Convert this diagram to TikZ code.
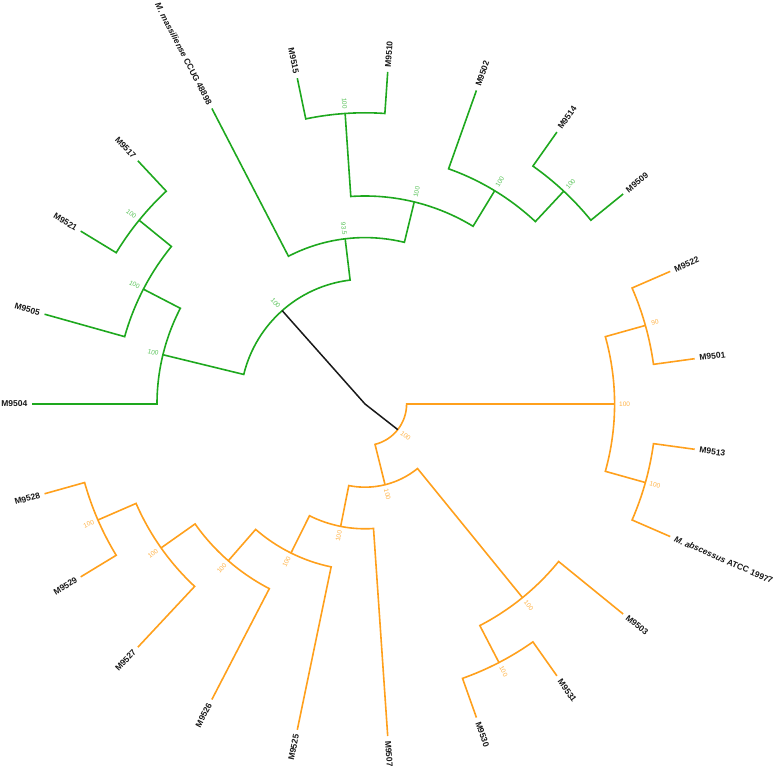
\documentclass[tikz,border=0pt]{standalone}
\usepackage{fontspec}
\setmainfont{Liberation Sans}
\definecolor{gbr}{RGB}{30,168,30}
\definecolor{obr}{RGB}{255,160,28}
\definecolor{glab}{RGB}{90,195,90}
\definecolor{olab}{RGB}{255,178,70}
\tikzset{
  gline/.style={draw=gbr, line width=1.6pt},
  oline/.style={draw=obr, line width=1.6pt},
  rootline/.style={draw=black!90, line width=1.5pt},
  tiplabel/.style={font=\fontsize{8.5}{9}\selectfont\bfseries, inner sep=0pt, text=black!90},
  bslabel/.style={font=\fontsize{6.5}{7}\selectfont, inner sep=0pt},
}
% tip on the right half / left half
\newcommand\tipR[3]{\coordinate (#1) at (#2:332.8);
  \node[tiplabel, anchor=west, rotate=#2] (lab#1) at (#2:337.5) {#3};}
\newcommand\tipL[3]{\coordinate (#1) at (#2:332.8);
  \node[tiplabel, anchor=east, rotate=#2+180] (lab#1) at (#2:337.5) {#3};}
% internal node: name, radius, own angle, child1, angle1, child2, angle2, style
\newcommand\mkclade[8]{%
  \draw[#8] (#4) -- (#5:#2) arc[start angle=#5, end angle=#7, radius=#2 pt] -- (#6);
  \coordinate (#1) at (#3:#2);}
% bootstrap labels: name, angle, radius, text, colour
\newcommand\bsR[5]{\node[bslabel, text=#5, rotate=#2] (bs#1) at (#2:#3) {#4};}
\newcommand\bsL[5]{\node[bslabel, text=#5, rotate=#2+180] (bs#1) at (#2:#3) {#4};}
\begin{document}
\begin{tikzpicture}[x=1pt, y=1pt]
\useasboundingbox (0,0) rectangle (777,770);
\begin{scope}[shift={(365,366)}]
% tips
\tipR{t9522}{23.478}{M9522}
\tipR{t9501}{7.826}{M9501}
\tipR{t9513}{-7.826}{M9513}
\tipR{tabs}{-23.478}{\textit{M. abscessus} ATCC 19977}
\tipR{t9503}{-39.130}{M9503}
\tipR{t9531}{-54.783}{M9531}
\tipR{t9530}{-70.435}{M9530}
\tipR{t9507}{-86.087}{M9507}
\tipL{t9525}{-101.739}{M9525}
\tipL{t9526}{-117.391}{M9526}
\tipL{t9527}{-133.043}{M9527}
\tipL{t9529}{-148.696}{M9529}
\tipL{t9528}{-164.348}{M9528}
\tipL{t9504}{180}{M9504}
\tipL{t9505}{164.348}{M9505}
\tipL{t9521}{148.696}{M9521}
\tipL{t9517}{133.043}{M9517}
\tipL{tmas}{117.391}{\textit{M. massiliense} CCUG 48898}
\tipL{t9515}{101.739}{M9515}
\tipR{t9510}{86.087}{M9510}
\tipR{t9502}{70.435}{M9502}
\tipR{t9514}{54.783}{M9514}
\tipR{t9509}{39.130}{M9509}
% green clade
\mkclade{X}{291.2}{140.870}{t9517}{133.043}{t9521}{148.696}{gline}
\mkclade{Y}{249.6}{152.609}{X}{140.870}{t9505}{164.348}{gline}
\mkclade{Z}{208}{166.304}{Y}{152.609}{t9504}{180}{gline}
\mkclade{T}{291.2}{93.913}{t9515}{101.739}{t9510}{86.087}{gline}
\mkclade{R}{291.2}{46.957}{t9514}{54.783}{t9509}{39.130}{gline}
\mkclade{S}{249.6}{58.696}{t9502}{70.435}{R}{46.957}{gline}
\mkclade{U}{208}{76.304}{T}{93.913}{S}{58.696}{gline}
\mkclade{V}{166.4}{96.848}{tmas}{117.391}{U}{76.304}{gline}
\mkclade{W}{124.8}{131.576}{Z}{166.304}{V}{96.848}{gline}
% orange clade
\mkclade{Q}{291.2}{15.652}{t9522}{23.478}{t9501}{7.826}{oline}
\mkclade{Qb}{291.2}{-15.652}{t9513}{-7.826}{tabs}{-23.478}{oline}
\mkclade{P}{249.6}{0}{Q}{15.652}{Qb}{-15.652}{oline}
\mkclade{H}{291.2}{-62.609}{t9530}{-70.435}{t9531}{-54.783}{oline}
\mkclade{M}{249.6}{-50.870}{H}{-62.609}{t9503}{-39.130}{oline}
\mkclade{I}{291.2}{-156.522}{t9528}{-164.348}{t9529}{-148.696}{oline}
\mkclade{J}{249.6}{-144.783}{I}{-156.522}{t9527}{-133.043}{oline}
\mkclade{K}{208}{-131.087}{J}{-144.783}{t9526}{-117.391}{oline}
\mkclade{L}{166.4}{-116.413}{K}{-131.087}{t9525}{-101.739}{oline}
\mkclade{N}{124.8}{-101.25}{L}{-116.413}{t9507}{-86.087}{oline}
\mkclade{Ob}{83.2}{-76.060}{N}{-101.25}{M}{-50.870}{oline}
\mkclade{Oa}{41.6}{-38.030}{P}{0}{Ob}{-76.060}{oline}
% root
\coordinate (root) at (0,0);
\draw[rootline] (W) -- (root) -- (Oa);
% bootstrap values
\bsL{X}{140.870}{301.2}{100}{glab}
\bsL{Y}{152.609}{259.6}{100}{glab}
\bsL{Z}{166.304}{218}{100}{glab}
\bsL{T}{93.913}{301.2}{100}{glab}
\bsR{R}{46.957}{301.2}{100}{glab}
\bsR{S}{58.696}{259.6}{100}{glab}
\bsR{U}{76.304}{218}{100}{glab}
\bsL{V}{96.848}{176.4}{93.5}{glab}
\bsL{W}{131.576}{134.8}{100}{glab}
\bsR{Q}{15.652}{301.2}{90}{olab}
\bsR{Qb}{-15.652}{301.2}{100}{olab}
\bsR{P}{0}{259.6}{100}{olab}
\bsR{H}{-62.609}{301.2}{100}{olab}
\bsR{M}{-50.870}{259.6}{100}{olab}
\bsL{I}{-156.522}{301.2}{100}{olab}
\bsL{J}{-144.783}{259.6}{100}{olab}
\bsL{K}{-131.087}{218}{100}{olab}
\bsL{L}{-116.413}{176.4}{100}{olab}
\bsL{N}{-101.25}{134.8}{100}{olab}
\bsR{Ob}{-76.060}{93.2}{100}{olab}
\bsR{Oa}{-38.030}{51.6}{100}{olab}
\end{scope}
\end{tikzpicture}
\end{document}
